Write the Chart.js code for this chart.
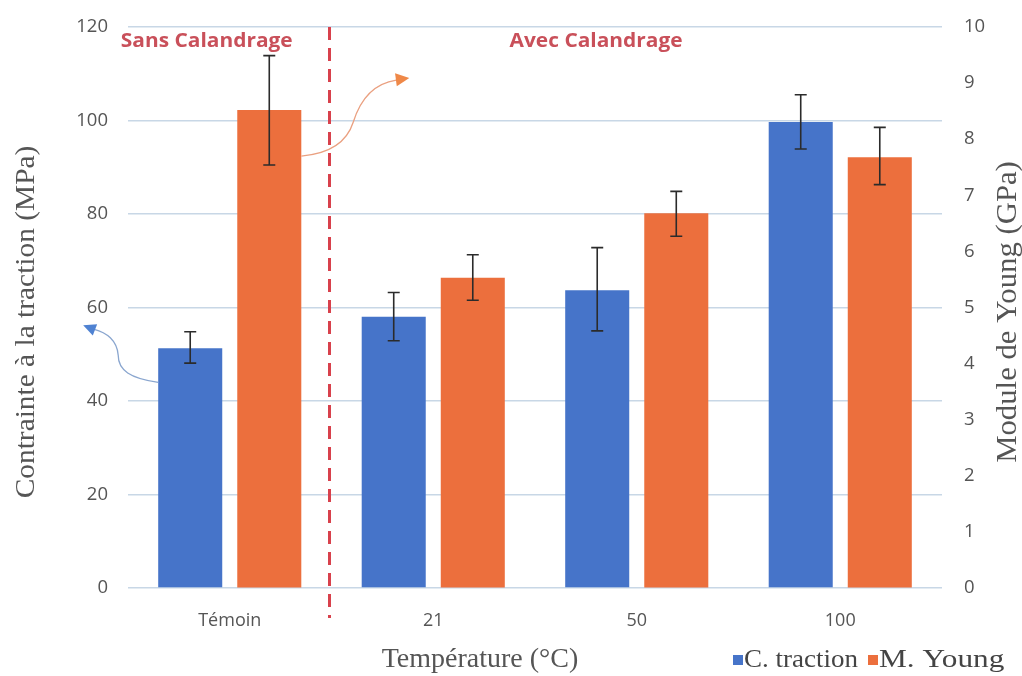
<!DOCTYPE html>
<html>
<head>
<meta charset="utf-8">
<script src="https://cdn.jsdelivr.net/npm/chart.js@4/dist/chart.umd.min.js"></script>
<style>
html,body{margin:0;padding:0;background:#fff;}
#wrap{position:relative;width:1022px;height:676px;}
</style>
</head>
<body>
<div id="wrap"><canvas id="c"></canvas></div>
<script>
const categories = ['Témoin', '21', '50', '100'];
const tractionValues = [51.3, 58.0, 63.7, 99.7];       // MPa
const tractionLow    = [48.1, 52.9, 55.0, 93.9];
const tractionHigh   = [54.8, 63.2, 72.8, 105.5];
const youngValues = [8.52, 5.53, 6.68, 7.68];          // GPa
const youngLow    = [7.54, 5.13, 6.27, 7.19];
const youngHigh   = [9.49, 5.94, 7.07, 8.21];
const leftTicks = [0, 20, 40, 60, 80, 100, 120];
const rightTicks = [0,1,2,3,4,5,6,7,8,9,10];

const BLUE = '#4674c9';
const ORANGE = '#ec6f3d';
const TICK_COLOR = '#555555';
const SANS = '"Open Sans", Lato, sans-serif';
const SERIF = '"Liberation Serif", "DejaVu Serif", serif';

function arrowHead(ctx, tipX, tipY, fromX, fromY, size, color) {
  const a = Math.atan2(tipY - fromY, tipX - fromX);
  ctx.save();
  ctx.fillStyle = color;
  ctx.beginPath();
  ctx.moveTo(tipX, tipY);
  ctx.lineTo(tipX - size * Math.cos(a - 0.45), tipY - size * Math.sin(a - 0.45));
  ctx.lineTo(tipX - size * Math.cos(a + 0.45), tipY - size * Math.sin(a + 0.45));
  ctx.closePath();
  ctx.fill();
  ctx.restore();
}

// text drawn with a horizontal stretch (along the text direction)
function stretchedText(ctx, text, x, y, rot, sx) {
  ctx.save();
  ctx.translate(x, y);
  if (rot) ctx.rotate(rot);
  ctx.scale(sx, 1);
  ctx.fillText(text, 0, 0);
  ctx.restore();
}

const overlay = {
  id: 'overlay',
  afterDatasetsDraw(chart) {
    const ctx = chart.ctx;
    const xs = chart.scales.x, y1 = chart.scales.y, y2 = chart.scales.y2;
    const area = chart.chartArea;
    const sets = [
      {meta: chart.getDatasetMeta(0), lo: tractionLow, hi: tractionHigh, sc: y1},
      {meta: chart.getDatasetMeta(1), lo: youngLow, hi: youngHigh, sc: y2}
    ];
    ctx.save();
    ctx.strokeStyle = '#2b2b2b';
    ctx.lineWidth = 1.6;
    sets.forEach(s => {
      s.meta.data.forEach((bar, i) => {
        const x = bar.x;
        const yl = s.sc.getPixelForValue(s.lo[i]);
        const yh = s.sc.getPixelForValue(s.hi[i]);
        ctx.beginPath();
        ctx.moveTo(x, yl); ctx.lineTo(x, yh);
        ctx.moveTo(x - 6, yl); ctx.lineTo(x + 6, yl);
        ctx.moveTo(x - 6, yh); ctx.lineTo(x + 6, yh);
        ctx.stroke();
      });
    });
    ctx.restore();

    // dashed separator
    const sepX = xs.getPixelForValue(0.5) - 2;
    ctx.save();
    ctx.strokeStyle = '#d8414c';
    ctx.lineWidth = 3;
    ctx.setLineDash([13, 8]);
    ctx.beginPath();
    ctx.moveTo(sepX, area.top);
    ctx.lineTo(sepX, area.bottom + 30);
    ctx.stroke();
    ctx.restore();

    // section labels
    ctx.save();
    ctx.fillStyle = '#c9505a';
    ctx.font = 'bold 19px ' + SANS;
    ctx.textAlign = 'center';
    ctx.textBaseline = 'middle';
    stretchedText(ctx, 'Sans Calandrage', xs.getPixelForValue(0) - 23, area.top + 15, 0, 1.1);
    stretchedText(ctx, 'Avec Calandrage', xs.getPixelForValue(1.8), area.top + 15, 0, 1.1);
    ctx.restore();

    // blue arrow from blue Témoin bar
    const b0 = chart.getDatasetMeta(0).data[0];
    const bx = b0.x - b0.width / 2, by = y1.getPixelForValue(44);
    ctx.save();
    ctx.strokeStyle = '#8aa6cf';
    ctx.lineWidth = 1.3;
    ctx.beginPath();
    ctx.moveTo(bx, by);
    ctx.bezierCurveTo(bx - 28, by - 4, bx - 40, by - 12, bx - 40, by - 27);
    ctx.bezierCurveTo(bx - 41, by - 42, bx - 52, by - 50, bx - 64, by - 53);
    ctx.stroke();
    ctx.restore();
    arrowHead(ctx, bx - 75, by - 57, bx - 62, by - 52, 14, '#4f82d2');

    // orange arrow from orange Témoin bar
    const o0 = chart.getDatasetMeta(1).data[0];
    const ox = o0.x + o0.width / 2, oy = y2.getPixelForValue(7.7);
    ctx.save();
    ctx.strokeStyle = '#eaa080';
    ctx.lineWidth = 1.3;
    ctx.beginPath();
    ctx.moveTo(ox, oy);
    ctx.bezierCurveTo(ox + 25, oy - 2, ox + 45, oy - 12, ox + 52, oy - 34);
    ctx.bezierCurveTo(ox + 60, oy - 60, ox + 75, oy - 73, ox + 95, oy - 76);
    ctx.stroke();
    ctx.restore();
    arrowHead(ctx, ox + 108, oy - 78, ox + 93, oy - 76, 15, '#ef8848');
  },
  afterDraw(chart) {
    const ctx = chart.ctx;
    ctx.save();
    ctx.fillStyle = '#555';
    ctx.textAlign = 'center';
    ctx.textBaseline = 'middle';
    ctx.font = '28px ' + SERIF;
    stretchedText(ctx, 'Contrainte à la traction (MPa)', 27, 322, -Math.PI / 2, 1.05);
    ctx.font = '29px ' + SERIF;
    stretchedText(ctx, 'Module de Young (GPa)', 1008, 312, -Math.PI / 2, 1.06);
    ctx.font = '28px ' + SERIF;
    stretchedText(ctx, 'Température (°C)', 480, 660, 0, 1.0);
    // legend
    ctx.font = '25px ' + SERIF;
    ctx.textAlign = 'left';
    ctx.fillStyle = BLUE;
    ctx.fillRect(733, 655, 10, 10);
    ctx.fillStyle = '#444';
    stretchedText(ctx, 'C. traction', 744, 660, 0, 1.08);
    ctx.fillStyle = ORANGE;
    ctx.fillRect(868, 655, 10, 10);
    ctx.fillStyle = '#444';
    stretchedText(ctx, 'M. Young', 879, 660, 0, 1.25);
    ctx.restore();
  }
};

function fixY(width) {
  return function (s) { s.width = width; s.paddingTop = 0; s.paddingBottom = 0; };
}

new Chart(document.getElementById('c'), {
  type: 'bar',
  data: {
    labels: categories,
    datasets: [
      {label: 'C. traction', data: tractionValues, backgroundColor: BLUE, yAxisID: 'y',
       categoryPercentage: 0.777, barPercentage: 0.81},
      {label: 'M. Young', data: youngValues, backgroundColor: ORANGE, yAxisID: 'y2',
       categoryPercentage: 0.777, barPercentage: 0.81}
    ]
  },
  options: {
    responsive: true,
    maintainAspectRatio: false,
    animation: false,
    layout: {padding: {top: 27, left: 0, right: 0, bottom: 0}},
    plugins: {legend: {display: false}, tooltip: {enabled: false}},
    scales: {
      x: {
        grid: {display: false},
        border: {display: false},
        ticks: {color: TICK_COLOR, font: {family: SANS, size: 18}, padding: 14},
        afterFit(s) { s.height = 88; s.paddingLeft = 0; s.paddingRight = 0; }
      },
      y: {
        position: 'left',
        min: 0, max: 120,
        afterBuildTicks(s) { s.ticks = leftTicks.map(v => ({value: v})); },
        grid: {color: '#c8d7e6', lineWidth: 1.5, drawTicks: false},
        border: {display: false},
        ticks: {color: TICK_COLOR, font: {family: SANS, size: 18.5}, padding: 20},
        afterFit: fixY(128)
      },
      y2: {
        position: 'right',
        min: 0, max: 10,
        afterBuildTicks(s) { s.ticks = rightTicks.map(v => ({value: v})); },
        grid: {drawOnChartArea: false, drawTicks: false},
        border: {display: false},
        ticks: {color: TICK_COLOR, font: {family: SANS, size: 18.5}, padding: 22},
        afterFit: fixY(80)
      }
    }
  },
  plugins: [overlay]
});
</script>
</body>
</html>
